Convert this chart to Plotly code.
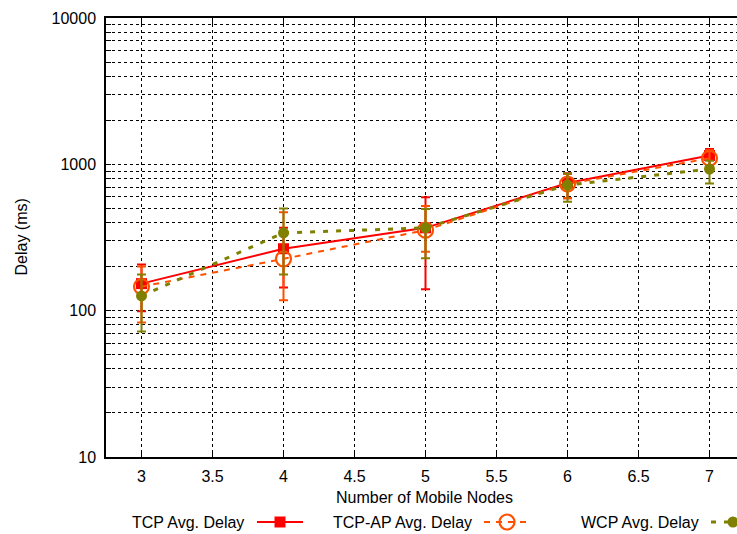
import plotly.graph_objects as go

# ---------------- data ----------------
nodes = [3, 4, 5, 6, 7]

tcp_delay = [153, 265, 368, 745, 1150]
tcp_low = [99, 144, 140, 586, 989]
tcp_high = [207, 368, 595, 870, 1271]

tcpap_delay = [146, 226, 355, 734, 1100]
tcpap_low = [83, 118, 253, 586, 989]
tcpap_high = [200, 470, 520, 860, 1250]

wcp_delay = [126, 340, 368, 722, 929]
wcp_low = [72, 177, 228, 556, 741]
wcp_high = [177, 500, 496, 867, 1058]

series_names = ["TCP Avg. Delay", "TCP-AP Avg. Delay", "WCP Avg. Delay"]
x_tick_vals = [3, 3.5, 4, 4.5, 5, 5.5, 6, 6.5, 7]
x_tick_text = ["3", "3.5", "4", "4.5", "5", "5.5", "6", "6.5", "7"]
y_major = [10, 100, 1000, 10000]
y_major_text = ["10", "100", "1000", "10000"]
y_minor = [m * d for d in (10, 100, 1000) for m in range(2, 10)]

# ---------------- styles ----------------
W, H = 737, 534
FONT = "Liberation Sans, Arial, Helvetica, sans-serif"
FS = 16
RED = "#ff0000"
ORANGE = "#ff5000"
OLIVE = "#808000"

L_PX, R_PX, T_PX, B_PX = 106, 737, 18, 457

y_all = sorted(y_major + y_minor)
y_all_text = [y_major_text[y_major.index(v)] if v in y_major else "" for v in y_all]


def err(vals, lo, hi):
    return dict(type="data", symmetric=False,
                array=[h - v for v, h in zip(vals, hi)],
                arrayminus=[v - l for v, l in zip(vals, lo)])


fig = go.Figure()

styles = [
    (tcp_delay, tcp_low, tcp_high, RED, dict(width=2), dict(symbol="square", size=11, color=RED)),
    (tcpap_delay, tcpap_low, tcpap_high, ORANGE, dict(width=2, dash="6px,6px"),
     dict(symbol="circle-open", size=15, color=ORANGE, line=dict(width=2.2, color=ORANGE))),
    (wcp_delay, wcp_low, wcp_high, OLIVE, dict(width=3, dash="5px,8px"),
     dict(symbol="circle", size=11, color=OLIVE)),
]

for name, (vals, lo, hi, col, ln, mk) in zip(series_names, styles):
    e = err(vals, lo, hi)
    e.update(color=col, thickness=2, width=4.5)
    fig.add_trace(go.Scatter(x=nodes, y=vals, mode="lines+markers", name=name,
                             line=dict(color=col, **ln), marker=mk, error_y=e,
                             showlegend=False, xaxis="x", yaxis="y"))

# ---------------- custom legend (pixel overlay axes) ----------------
leg_y = 522
leg_items = [
    (series_names[0], 246, (257, 303), 280, RED, dict(width=2),
     dict(symbol="square", size=11, color=RED)),
    (series_names[1], 474, (484, 530), 507, ORANGE, dict(width=2, dash="6px,6px"),
     dict(symbol="circle-open", size=15, color=ORANGE, line=dict(width=2.2, color=ORANGE))),
    (series_names[2], 701, (711, 757), 733, OLIVE, dict(width=3, dash="5px,8px"),
     dict(symbol="circle", size=11, color=OLIVE)),
]
annotations = []
for name, tx, (lx0, lx1), mx, col, ln, mk in leg_items:
    fig.add_trace(go.Scatter(x=[lx0, lx1], y=[leg_y, leg_y], mode="lines",
                             line=dict(color=col, **ln), showlegend=False,
                             xaxis="x2", yaxis="y2", hoverinfo="skip"))
    fig.add_trace(go.Scatter(x=[mx], y=[leg_y], mode="markers", marker=mk,
                             showlegend=False, xaxis="x2", yaxis="y2", hoverinfo="skip"))
    annotations.append(dict(x=tx, y=leg_y, xref="x2", yref="y2", text=name,
                            showarrow=False, xanchor="right", yanchor="middle",
                            font=dict(family=FONT, size=FS, color="black")))

annotations.append(dict(x=(L_PX + 737) / 2 + 3, y=497, xref="x2", yref="y2",
                        text="Number of Mobile Nodes", showarrow=False,
                        xanchor="center", yanchor="middle",
                        font=dict(family=FONT, size=FS, color="black")))
annotations.append(dict(x=21, y=(T_PX + B_PX) / 2, xref="x2", yref="y2",
                        text="Delay (ms)", showarrow=False, textangle=-90,
                        xanchor="center", yanchor="middle",
                        font=dict(family=FONT, size=FS, color="black")))

fig.update_layout(
    width=W, height=H,
    margin=dict(l=0, r=0, t=0, b=0, pad=0, autoexpand=False),
    paper_bgcolor="white", plot_bgcolor="rgba(0,0,0,0)",
    font=dict(family=FONT, size=FS, color="black"),
    annotations=annotations,
    xaxis=dict(domain=[L_PX / W, R_PX / W], range=[2.75, 2.75 + (R_PX - L_PX) / 142.0],
               anchor="y", tickmode="array", tickvals=x_tick_vals, ticktext=x_tick_text,
               ticks="inside", ticklen=6, tickwidth=1, tickcolor="black",
               showline=True, linecolor="black", linewidth=1.5, mirror="ticks",
               zeroline=False, automargin=False, ticklabelstandoff=4,
               showgrid=True, gridcolor="black", gridwidth=1, griddash="dot",
               tickfont=dict(family=FONT, size=FS, color="black")),
    yaxis=dict(domain=[(H - B_PX) / H, (H - T_PX) / H], type="log", range=[1, 4],
               anchor="x", tickmode="array", tickvals=y_all, ticktext=y_all_text,
               ticks="inside", ticklen=5, tickwidth=1, tickcolor="black",
               showline=True, linecolor="black", linewidth=1.5, mirror=False,
               zeroline=False, automargin=False, ticklabelstandoff=5,
               showgrid=True, gridcolor="black", gridwidth=1, griddash="dot",
               tickfont=dict(family=FONT, size=FS, color="black")),
    xaxis2=dict(domain=[0, 1], range=[0, W], anchor="y2", visible=False,
                fixedrange=True, automargin=False),
    yaxis2=dict(domain=[0, 1], range=[H, 0], anchor="x2", visible=False,
                fixedrange=True, automargin=False),
)

fig.write_html("out.html")
